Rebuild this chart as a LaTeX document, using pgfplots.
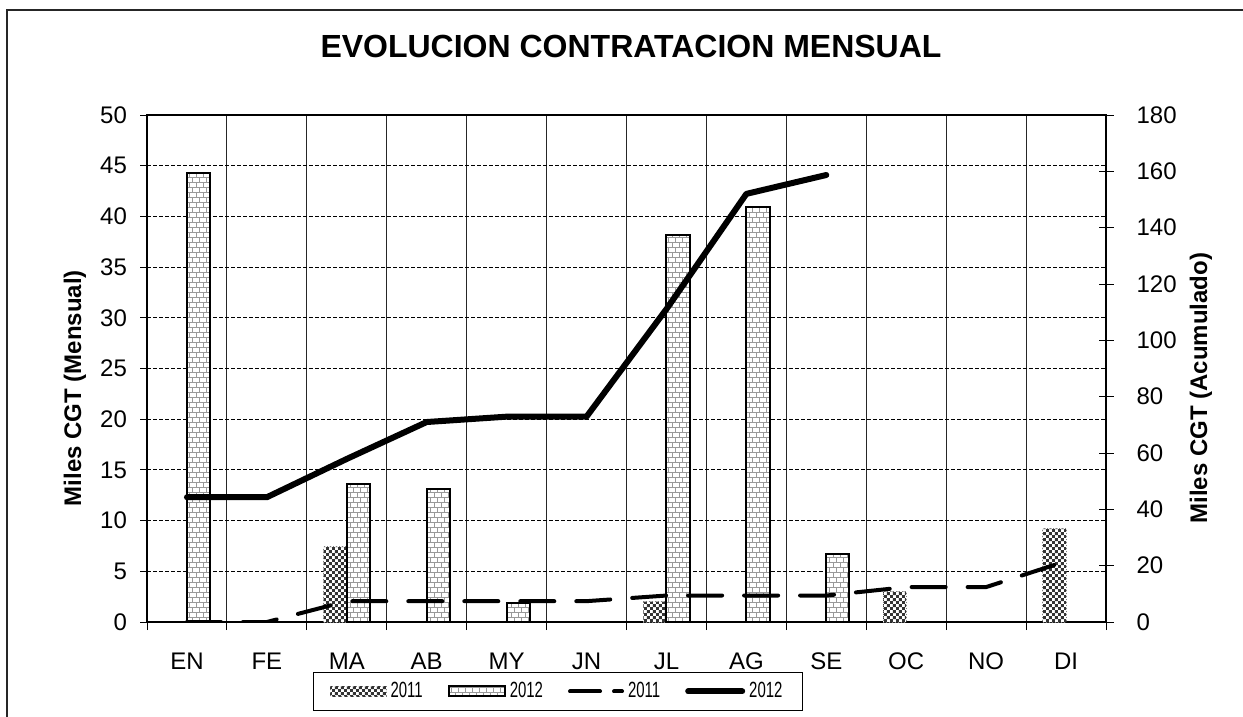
\documentclass[border=0pt]{standalone}
\usepackage{fontspec}
\setmainfont{Liberation Sans}
\newfontfamily\narrowfont[FakeStretch=0.68]{Liberation Sans}
\usepackage{pgfplots}
\pgfplotsset{compat=1.18}
\usetikzlibrary{patterns}

% brick and checker fills, as in the Excel chart
\pgfdeclarepatternformonly{xbricks}{\pgfqpoint{-0.2pt}{-0.2pt}}{\pgfqpoint{3.7pt}{5.2pt}}{\pgfqpoint{3.5pt}{5pt}}{%
  \pgfsetlinewidth{0.35pt}%
  \pgfpathmoveto{\pgfqpoint{0pt}{0pt}}\pgfpathlineto{\pgfqpoint{3.5pt}{0pt}}%
  \pgfpathmoveto{\pgfqpoint{0pt}{2.5pt}}\pgfpathlineto{\pgfqpoint{3.5pt}{2.5pt}}%
  \pgfpathmoveto{\pgfqpoint{0pt}{0pt}}\pgfpathlineto{\pgfqpoint{0pt}{2.5pt}}%
  \pgfpathmoveto{\pgfqpoint{1.75pt}{2.5pt}}\pgfpathlineto{\pgfqpoint{1.75pt}{5pt}}%
  \pgfusepath{stroke}}
\pgfdeclarepatternformonly{xchecker}{\pgfqpoint{0pt}{0pt}}{\pgfqpoint{3.2pt}{3.2pt}}{\pgfqpoint{3.2pt}{3.2pt}}{%
  \pgfpathrectangle{\pgfqpoint{0pt}{0pt}}{\pgfqpoint{1.6pt}{1.6pt}}%
  \pgfpathrectangle{\pgfqpoint{1.6pt}{1.6pt}}{\pgfqpoint{1.6pt}{1.6pt}}%
  \pgfusepath{fill}}

\pgfplotsset{
  bar2011/.style={fill=white, draw=gray, densely dotted, line width=0.5pt,
    postaction={pattern=xchecker, pattern color=black!80}},
  bar2012/.style={fill=white, draw=black, line width=1pt,
    postaction={pattern=xbricks, pattern color=black!40}},
  barlegend/.style={legend image code/.code={\draw[##1] (0pt,-2.5pt) rectangle (28pt,2.5pt);}},
  linelegend/.style={legend image code/.code={\draw[##1] (1pt,0pt) -- (28pt,0pt);}},
  dashlegend/.style={legend image code/.code={\draw[##1, dash pattern=on 15pt off 7pt] (1pt,0pt) -- (27pt,0pt);}},
}

\begin{document}
\begin{tikzpicture}
\path[use as bounding box] (0,0) rectangle (621.5pt,-358.5pt);
\draw[line width=1pt, black!85] (3.5pt,-358.5pt) -- (3.5pt,-5pt) -- (621.5pt,-5pt);

\begin{axis}[
  at={(73.5pt,-311pt)}, anchor=south west,
  scale only axis, width=479.5pt, height=253.5pt,
  ybar=0pt, bar width=0.29,
  xmin=-0.5, xmax=11.5, ymin=0, ymax=50,
  xtick={0,...,11},
  xticklabels={EN,FE,MA,AB,MY,JN,JL,AG,SE,OC,NO,DI},
  minor xtick={-0.5,0.5,...,11.5},
  ytick={0,5,...,50},
  tick pos=left, tick align=outside,
  major x tick style={draw=none},
  major tick length=3.5pt, minor tick length=4pt,
  tick style={black, line width=0.5pt},
  xminorgrids, minor x grid style={black!85, line width=0.5pt, solid},
  ymajorgrids, major y grid style={black, line width=0.5pt, dash pattern=on 2pt off 1pt},
  axis line style={line width=1.2pt},
  tick label style={font=\fontsize{12}{14}\selectfont},
  /pgf/number format/assume math mode=true,
  xticklabel style={anchor=center, yshift=-16pt},
  yticklabel style={xshift=-3pt},
  ylabel={Miles CGT (Mensual)},
  every axis y label/.style={at={(axis description cs:-0.0751,0.4615)}, rotate=90, anchor=center,
    font=\bfseries\fontsize{12}{14}\selectfont},
  title={EVOLUCION CONTRATACION MENSUAL},
  title style={font=\bfseries\fontsize{16}{19}\selectfont, at={(axis description cs:0.5047,1.1124)}, anchor=center},
]
\addplot[bar2011] coordinates {(2,7.4) (6,2.0) (9,3.0) (11,9.2)};
\addplot[bar2012] coordinates {(0,44.3) (2,13.6) (3,13.1) (4,1.9) (6,38.2) (7,40.9) (8,6.7)};
\end{axis}

\begin{axis}[
  at={(73.5pt,-311pt)}, anchor=south west,
  scale only axis, width=479.5pt, height=253.5pt,
  xmin=-0.5, xmax=11.5, ymin=0, ymax=180,
  ytick={0,20,...,180},
  axis y line*=right, axis x line=none,
  tick align=center, major tick length=7.5pt,
  tick style={black, line width=0.5pt},
  axis line style={line width=1.2pt},
  tick label style={font=\fontsize{12}{14}\selectfont},
  /pgf/number format/assume math mode=true,
  yticklabel style={xshift=8pt},
  ylabel={Miles CGT (Acumulado)},
  every axis y label/.style={at={(axis description cs:1.099,0.4615)}, rotate=90, anchor=center,
    font=\bfseries\fontsize{12}{14}\selectfont},
  legend columns=4,
  legend style={at={(axis description cs:0.4286,-0.137)}, anchor=center,
    draw=black, line width=0.5pt, inner xsep=8pt, inner ysep=3pt,
    font=\narrowfont\fontsize{11}{13}\selectfont,
    /tikz/every even column/.append style={column sep=10.5pt}},
]
\addlegendimage{bar2011, barlegend}
\addlegendentry{2011}
\addlegendimage{bar2012, barlegend}
\addlegendentry{2012}
\addplot[black, line width=2pt, line cap=round, dash pattern=on 17pt off 11pt, dashlegend]
  coordinates {(0,0) (1,0) (2,7.4) (3,7.4) (4,7.4) (5,7.4) (6,9.4) (7,9.4) (8,9.4) (9,12.4) (10,12.4) (11,21.6)};
\addlegendentry{2011}
\addplot[black, line width=3pt, line cap=round, line join=round, linelegend]
  coordinates {(0,44.3) (1,44.3) (2,57.9) (3,71.0) (4,72.9) (5,72.9) (6,111.1) (7,152.0) (8,158.7)};
\addlegendentry{2012}
\end{axis}
\end{tikzpicture}
\end{document}
